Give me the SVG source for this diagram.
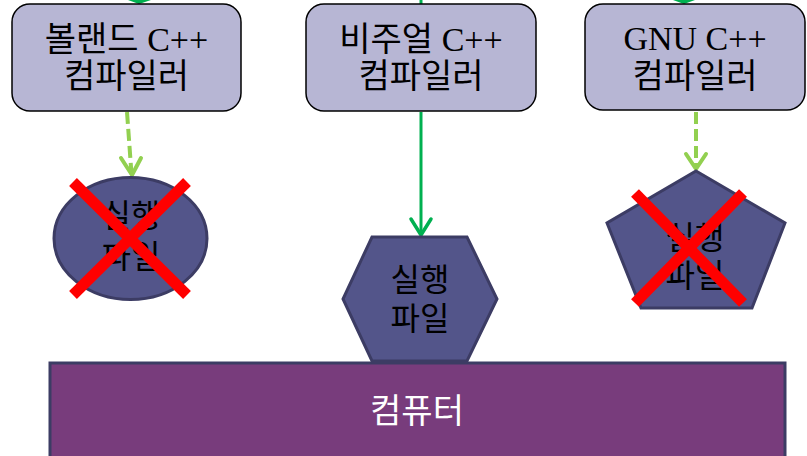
<svg xmlns="http://www.w3.org/2000/svg" width="807" height="456" viewBox="0 0 807 456">
<style>
.comp{fill:#b7b6d4;stroke:#000;stroke-width:1.5}
.ct{font-family:"Liberation Serif","Noto Sans CJK KR",serif;font-size:34px;fill:#000;text-anchor:middle}
.exe{fill:#53558a;stroke:#3c3c64;stroke-width:3}
.et{font-family:"Liberation Sans","Noto Sans CJK KR",sans-serif;font-size:32px;fill:#000;text-anchor:middle}
.x{stroke:#ff0000;stroke-width:11;stroke-linecap:butt}
.solid{stroke:#00b050;stroke-width:3;fill:none}
.dash{stroke:#92d050;stroke-width:4;fill:none;stroke-dasharray:12 5}
.head{stroke-width:4;fill:none;stroke-linecap:round;stroke-linejoin:round}
</style>
<g id="connectors">
  <path d="M128,0 L139,4 L151,0 Z" fill="#00b050"/>
  <path d="M673,0 L684,4 L695,0 Z" fill="#00b050"/>
  <line x1="421" y1="0" x2="421" y2="4" class="solid"/>
  <line x1="127" y1="112" x2="131.5" y2="174" class="dash"/>
  <polyline points="121,158 132,175 141,158" class="head" stroke="#92d050"/>
  <line x1="421" y1="112" x2="421" y2="235" class="solid"/>
  <polyline points="411,219 421,235 431,219" class="head" stroke="#00b050" style="stroke-width:3.5"/>
  <line x1="696" y1="112" x2="696" y2="168" class="dash"/>
  <polyline points="686,154 696,169 706,154" class="head" stroke="#92d050"/>
</g>
<g id="computer">
  <rect x="50" y="363" width="735" height="100" fill="#783c7c" stroke="#3c3c64" stroke-width="3"/>
  <text x="417" y="423" font-family="'Liberation Sans','Noto Sans CJK KR',sans-serif" font-size="34" fill="#ffffff" text-anchor="middle">컴퓨터</text>
</g>
<g id="borland">
  <rect x="12" y="4" width="229" height="107" rx="18" class="comp"/>
  <text x="126.5" y="51" class="ct">볼랜드 C++</text>
  <text x="126.5" y="88" class="ct">컴파일러</text>
</g>
<g id="visual">
  <rect x="306" y="4" width="230" height="107" rx="18" class="comp"/>
  <text x="421" y="51" class="ct">비주얼 C++</text>
  <text x="421" y="88" class="ct">컴파일러</text>
</g>
<g id="gnu">
  <rect x="585" y="4" width="220" height="106" rx="18" class="comp"/>
  <text x="695" y="50" class="ct">GNU C++</text>
  <text x="695" y="88" class="ct">컴파일러</text>
</g>
<g id="exe-borland">
  <ellipse cx="130.5" cy="238.5" rx="76.5" ry="61" class="exe"/>
  <text x="131" y="227" class="et">실행</text>
  <text x="131" y="268" class="et">파일</text>
  <line x1="73" y1="182" x2="187" y2="295" class="x"/>
  <line x1="187" y1="182" x2="73" y2="295" class="x"/>
</g>
<g id="exe-visual">
  <polygon points="372,237 467,237 497,299 467,361 372,361 343,299" class="exe"/>
  <text x="420" y="291" class="et">실행</text>
  <text x="420" y="330" class="et">파일</text>
</g>
<g id="exe-gnu">
  <polygon points="696,171 785,223 752,308 641,308 607,223" class="exe"/>
  <text x="695" y="249" class="et">실행</text>
  <text x="695" y="287" class="et">파일</text>
  <line x1="635" y1="193" x2="743" y2="303" class="x"/>
  <line x1="743" y1="193" x2="635" y2="303" class="x"/>
</g>
</svg>
